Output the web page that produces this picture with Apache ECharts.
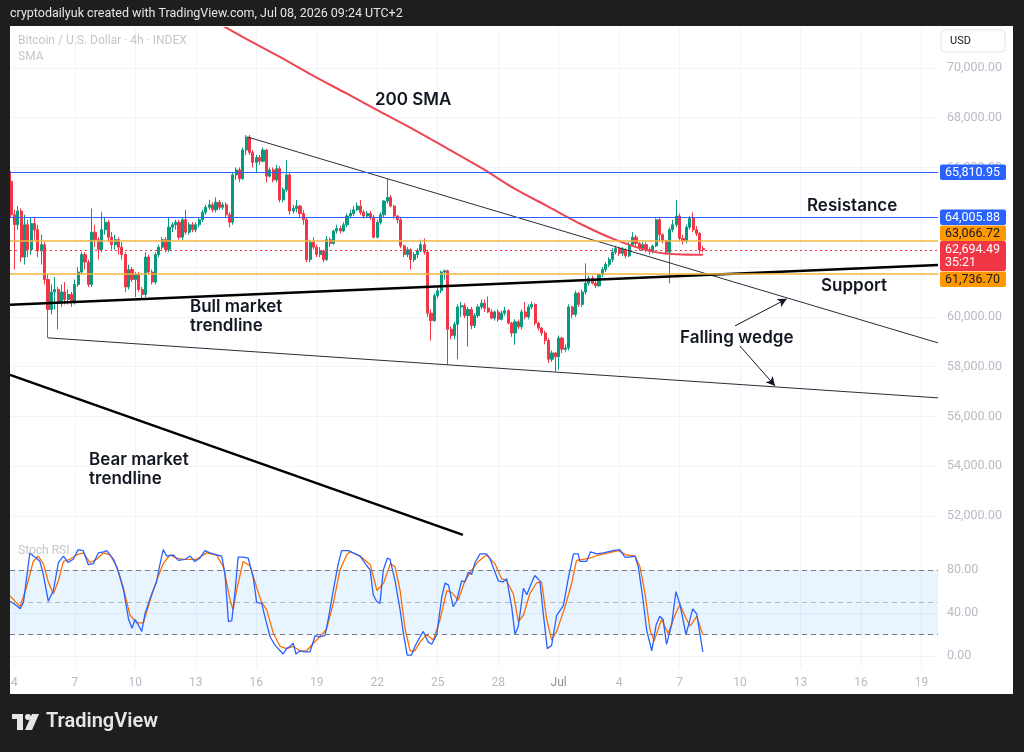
<!DOCTYPE html>
<html>
<head>
<meta charset="utf-8">
<script src="https://cdn.jsdelivr.net/npm/echarts@6/dist/echarts.min.js"></script>
<style>
  html, body { margin: 0; padding: 0; background: #1e1e1e; }
  #main { width: 1024px; height: 752px; }
</style>
</head>
<body>
<div id="main"></div>
<script>
// x unit = one 4h candle, 0 = Jun 4 00:00
var firstCandleX = -1;

// [open, close, low, high]
var candles = [
  [65450,64100,64000,65850],[64100,63700,61900,64300],[63700,64250,63500,64450],[64250,62400,62200,64350],
  [62400,63700,62100,64100],[63700,62700,62400,63900],[62700,63750,62500,64000],[63750,63500,63100,64000],
  [63500,62650,62400,63700],[62650,62900,62100,63300],[62900,61500,61300,63000],[61500,60300,59150,61700],
  [60300,61000,60100,61300],[61000,61100,60300,61600],[61100,60600,59500,61200],[60600,61000,60400,61300],
  [61000,60700,60500,61400],[60700,60900,60500,61100],[60900,60600,60400,61000],[60600,61300,60500,61500],
  [61300,61800,61200,62000],[61800,62500,61700,62600],[62500,62200,61900,62600],[62200,61300,61200,62300],
  [61300,63400,61200,64350],[63400,63100,62800,63700],[63100,62700,62300,63200],[62700,63500,62600,64200],
  [63500,63800,63300,64000],[63800,63200,63000,63900],[63200,62900,62700,63400],[62900,63100,62700,63300],
  [63100,62800,62500,63200],[62800,62500,62300,63000],[62500,61200,61000,62600],[61200,61900,61100,62100],
  [61900,61500,61400,62000],[61500,61700,60800,61800],[61700,61100,61000,61800],[61100,60900,60750,61200],
  [60900,62400,60800,62600],[62400,61800,61700,62500],[61800,61400,61300,61900],[61400,62500,61300,62600],
  [62500,62800,62400,62900],[62800,63100,62700,63200],[63100,62700,62600,63200],[62700,63600,62600,64000],
  [63600,63700,63400,63800],[63700,63800,63500,63900],[63800,63200,63100,63900],[63200,63900,63100,64000],
  [63900,63400,63300,64300],[63400,63700,63300,63800],[63700,63500,63400,63800],[63500,63700,63400,63800],
  [63700,63900,63600,64000],[63900,64200,63800,64300],[64200,64400,64100,64500],[64400,64500,64300,64700],
  [64500,64300,64200,64600],[64300,64600,64200,64800],[64600,64400,64300,64700],[64400,64500,64300,64600],
  [64500,64100,64000,64600],[64100,63800,63600,64200],[63800,65700,63700,65800],[65700,65900,65500,66000],
  [65900,65550,65400,66000],[65550,66700,65500,66800],[66700,67200,66500,67300],[67200,66600,66500,67300],
  [66600,66200,66000,66700],[66200,66400,65800,66500],[66400,66250,66100,66500],[66250,66700,66200,66800],
  [66700,65650,65400,66750],[65650,65900,65600,66000],[65900,65500,65400,66000],[65500,65950,65400,66100],
  [65950,64700,64600,66050],[64700,65100,64600,65200],[65100,65700,65000,66300],[65700,64250,64100,65800],
  [64250,64350,64150,64500],[64350,64450,64200,64700],[64450,64150,64000,64500],[64150,63900,63700,64300],
  [63900,62300,62200,64000],[62300,63000,62200,63100],[63000,62800,62700,63200],[62800,62500,62400,62900],
  [62500,62650,62400,62800],[62650,62300,62200,62700],[62300,63100,62250,63250],[63100,62950,62800,63200],
  [62950,63450,62900,63500],[63450,63550,63350,63700],[63550,63450,63350,63650],[63450,63700,63400,63800],
  [63700,64050,63600,64150],[64050,64150,63950,64300],[64150,64300,64050,64450],[64300,64450,64250,64600],
  [64450,64200,64100,64700],[64200,64050,63950,64300],[64050,64150,64000,64250],[64150,64000,63900,64250],
  [64000,63200,63150,64100],[63200,63800,63150,63900],[63800,64100,63700,64200],[64100,64650,64000,64700],
  [64650,64800,64550,65550],[64800,64450,64400,64900],[64450,64050,63950,64500],[64050,63900,63750,64100],
  [63900,62850,62750,64000],[62850,62500,62400,62900],[62500,62700,62400,62800],[62700,62300,61900,62750],
  [62300,62500,62200,62600],[62500,62650,62350,62750],[62650,62900,62600,63100],[62900,62600,62500,63150],
  [62600,60150,60000,62700],[60150,59850,59050,60300],[59850,60850,59800,60950],[60850,61050,60750,61200],
  [61050,61800,60950,61850],[61800,61850,61500,61900],[61850,59500,58070,61900],[59500,59250,59100,59600],
  [59250,59700,59100,59800],[59700,60400,58300,60500],[60400,60450,60000,60600],[60450,60050,59950,60550],
  [60050,60300,58800,60400],[60300,59650,59500,60400],[59650,60050,59550,60150],[60050,60400,59950,60500],
  [60400,60550,60300,60700],[60550,60350,60200,60700],[60350,60200,60150,60820],[60200,59950,59900,60300],
  [59950,60200,59850,60250],[60200,59900,59800,60300],[59900,60150,59850,60250],[60150,60250,60050,60400],
  [60250,59750,59700,60300],[59750,59350,59200,59800],[59350,59800,58880,59900],[59800,59600,59500,59900],
  [59600,60200,59500,60300],[60200,60000,59900,60600],[60000,60400,59900,60500],[60400,60500,60300,60620],
  [60500,59750,59650,60550],[59750,59550,59450,59800],[59550,59350,59250,59600],[59350,59050,58900,59450],
  [59050,58300,58150,59150],[58300,58550,58200,58650],[58550,58400,57800,58600],[58400,59150,57870,59250],
  [59150,58700,58550,59200],[58700,58750,58600,58900],[58750,60400,58650,60500],[60400,60100,59950,60450],
  [60100,60950,60000,61050],[60950,60500,60400,61000],[60500,61000,60400,61100],[61000,61350,60900,62150],
  [61350,61550,61250,61650],[61550,61350,61300,61650],[61350,61250,61150,61450],[61250,61700,61200,61750],
  [61700,61900,61600,62000],[61900,62100,61800,62200],[62100,62300,62000,62400],[62300,62600,62200,62750],
  [62600,62750,62500,62850],[62750,62550,62450,62800],[62550,62700,62450,62800],[62700,62450,62350,62750],
  [62450,62900,62400,63000],[62900,63200,62850,63400],[63200,62950,62850,63300],[62950,62750,62650,63000],
  [62750,62900,62650,63000],[62900,62700,62600,63000],[62700,62650,62500,62800],[62650,62850,62550,62900],
  [62850,63900,62800,63960],[63900,63300,63000,64000],[63300,63050,62950,63350],[63050,62600,62500,63100],
  [62600,63500,61350,63600],[63500,63700,63400,63900],[63700,64050,63600,64700],[64050,63150,63050,64150],
  [63150,63050,62900,63300],[63050,63600,62950,63700],[63600,63950,63500,64050],[63950,63500,63400,64200],
  [63500,63350,63250,63650],[63350,62700,62550,63400],[62750,62694.49,62600,62850]
];

// 200 SMA, [x, price]
var sma200 = [
  [61,71770],[69,71160],[79,70440],[89,69680],[99,68960],[109,68230],[119,67510],[129,66750],
  [139,65980],[149,65140],[159,64420],[169,63700],[179,63090],[189,62650],[197,62510],[205,62490]
];

// drawn lines, [x, price]
var upperWedge = [[69.2,67230],[274.9,58956]];
var lowerWedge = [[10.0,59157],[274.9,56747]];
var bullTrend  = [[-1.31,60482],[274.9,62088]];
var bearTrend  = [[-1.31,57671],[133.5,51245]];
var arrowUp    = [[214.5,59640],[229.9,60723]];
var arrowDown  = [[215.9,58836],[226.4,57229]];

// horizontal levels: resistance 1, resistance 2, orange zone top, last price, orange zone bottom
var levelValues = [65810.95, 64005.88, 63066.72, 62694.49, 61736.70];
var countdown = '35:21';

// Stoch RSI, [x, value]
var stochK = [
  [-1.3,51],[0.2,48],[1.7,44],[2.7,50],[4.6,96],[5.6,93],[6.6,91],[7.6,88],[8.6,76],[10.1,51],[11.6,61],
  [13.1,87],[14.6,93],[16.0,87],[17.5,90],[19.0,99],[20.5,98],[22.0,85],[23.5,86],[25.0,96],[26.5,97],
  [27.5,98],[29.5,90],[31.0,78],[32.5,61],[34.0,34],[35.0,26],[35.9,34],[36.9,29],[37.9,23],[38.9,40],
  [40.9,58],[42.3,69],[43.3,85],[44.3,99],[45.3,93],[47.3,94],[48.8,89],[50.8,90],[52.3,93],[53.7,88],
  [55.2,91],[56.7,98],[58.2,96],[60.2,94],[61.7,93],[62.7,76],[63.7,32],[64.7,33],[65.7,61],[66.6,92],
  [68.1,92],[69.6,91],[71.1,73],[72.1,50],[73.6,49],[74.6,36],[76.1,18],[77.6,10],[79.1,5],[80.0,2],
  [81.0,7],[82.0,9],[83.0,12],[83.8,2],[85.0,5],[86.5,4],[88.0,4],[89.5,19],[90.9,18],[92.4,19],
  [93.4,34],[94.9,61],[96.4,86],[97.4,98],[99.4,98],[102.9,93],[104.9,84],[105.9,80],[106.8,57],
  [107.8,51],[108.8,49],[109.8,80],[111.0,91],[111.8,90],[113.3,70],[114.8,43],[115.8,21],[116.9,1],
  [118.2,1],[119.2,9],[120.2,15],[121.7,23],[123.2,13],[124.2,11],[125.7,20],[127.2,55],[128.2,68],
  [129.2,66],[130.6,46],[131.6,51],[133.1,70],[134.1,69],[135.1,78],[136.1,76],[137.1,87],[138.6,95],
  [140.5,95],[141.5,91],[142.7,81],[144.0,70],[145.4,69],[146.5,72],[148.0,46],[149.0,20],[150.0,28],
  [151.5,63],[152.5,57],[153.9,68],[154.9,75],[156.4,70],[157.4,40],[158.6,7],[159.9,10],[161.4,38],
  [163.4,47],[164.9,73],[166.4,95],[167.8,95],[168.3,88],[170.3,88],[171.5,97],[173.3,95],[175.3,96],
  [178.2,98],[180.2,99],[181.7,92],[183.2,92],[184.7,93],[185.7,83],[187.0,55],[188.2,24],[189.7,5],
  [191.0,29],[192.1,37],[193.1,34],[194.1,11],[195.6,29],[196.9,60],[198.1,48],[199.9,20],[201.9,44],
  [203.1,39],[204.9,4]
];
var stochD = [
  [-1.3,56],[1.7,46],[3.6,64],[5.6,88],[7.1,93],[8.6,86],[10.1,69],[11.6,58],[13.1,70],[14.6,88],
  [16.5,90],[18.5,94],[20.5,96],[22.5,87],[24.5,90],[26.5,96],[28.5,94],[30.5,83],[32.4,64],[34.4,38],
  [36.4,31],[38.4,31],[40.4,52],[42.3,70],[44.3,86],[46.3,94],[48.3,91],[50.3,90],[52.2,90],[54.2,90],
  [57.2,96],[60.2,94],[62.2,83],[64.2,52],[65.1,43],[66.1,61],[68.1,88],[70.1,84],[72.1,64],[73.6,50],
  [75.1,43],[77.1,21],[79.1,9],[81.0,7],[83.0,9],[85.0,5],[87.0,5],[89.0,12],[90.9,18],[92.9,25],
  [94.9,49],[96.9,80],[98.9,94],[99.9,97],[102.9,93],[105.9,85],[107.9,61],[109.9,68],[111.9,86],
  [113.3,83],[114.8,61],[116.3,25],[117.8,5],[119.2,5],[120.7,13],[122.7,20],[124.7,15],[126.7,34],
  [128.7,61],[130.2,59],[132.1,52],[134.1,70],[136.1,80],[138.1,88],[140.5,94],[143.0,86],[145.0,72],
  [146.5,70],[148.5,58],[150.0,32],[151.5,38],[153.4,58],[155.4,68],[156.9,69],[158.4,35],[159.9,15],
  [161.4,23],[163.9,46],[165.9,68],[167.3,89],[169.3,90],[171.3,91],[173.8,94],[176.8,96],[179.7,98],
  [182.2,94],[184.7,93],[186.2,83],[187.7,58],[189.2,24],[190.4,14],[192.6,34],[194.6,21],[196.6,38],
  [198.1,48],[199.6,37],[201.1,28],[203.1,37],[204.9,20]
];

// axis ticks
var dayTicks  = [0, 18, 36, 54, 72, 90, 108, 126, 144, 162, 180, 198, 216, 234, 252, 270];
var dayLabels = ['4','7','10','13','16','19','22','25','28','Jul','4','7','10','13','16','19'];
var priceTicks = [52000, 54000, 56000, 58000, 60000, 62000, 64000, 66000, 68000, 70000];
var stochTicks = [0, 40, 80];

var X_MIN = -1.31, X_MAX = 274.9;
var GREEN = '#089981', RED = '#f23645', BLUE = '#2962ff', ORANGE = '#ff9800';

function fmtPrice(v) {
    return v.toLocaleString('en-US', { minimumFractionDigits: 2, maximumFractionDigits: 2 });
}

function txt(x, y, s, fill, font, extra) {
    var st = { text: s, fill: fill, font: font, align: 'left', textAlign: 'left',
               verticalAlign: 'middle', textVerticalAlign: 'middle' };
    if (extra) for (var k in extra) st[k] = extra[k];
    return { type: 'text', x: x, y: y, z: 110, style: st };
}

function box(x, y, w, h, fill) {
    return { type: 'rect', z: 105, shape: { x: x, y: y, width: w, height: h, r: 2 }, style: { fill: fill } };
}

window.onload = function () {
    var chart = echarts.init(document.getElementById('main'), null, { renderer: 'canvas' });

    var candleData = candles.map(function (c, i) {
        return [firstCandleX + i, c[0], c[1], c[2], c[3]];
    });

    var levelStyles = [
        { color: BLUE, width: 1, type: 'solid' },
        { color: BLUE, width: 1, type: 'solid' },
        { color: '#f5b342', width: 1.5, type: 'solid' },
        { color: RED, width: 1, type: [2, 3] },
        { color: '#f5b342', width: 1.5, type: 'solid' }
    ];

    var boldFont = '600 17px Inter';
    var graphics = [
        // dark frame
        { type: 'rect', z: 100, shape: { x: 0, y: 0, width: 1024, height: 26 }, style: { fill: '#1e1e1e' } },
        { type: 'rect', z: 100, shape: { x: 0, y: 0, width: 10, height: 752 }, style: { fill: '#1e1e1e' } },
        { type: 'rect', z: 100, shape: { x: 1013, y: 0, width: 11, height: 752 }, style: { fill: '#1e1e1e' } },
        { type: 'rect', z: 100, shape: { x: 0, y: 694, width: 1024, height: 58 }, style: { fill: '#1e1e1e' } },
        txt(10, 14, 'cryptodailyuk created with TradingView.com, Jul 08, 2026 09:24 UTC+2', '#e6e6e6', '12.5px Roboto'),
        txt(18, 41, 'Bitcoin / U.S. Dollar \u00b7 4h \u00b7 INDEX', '#c3c6cd', '12px Roboto'),
        txt(18, 57, 'SMA', '#c3c6cd', '12px Roboto'),
        txt(18, 551, 'Stoch RSI', '#c3c6cd', '12px Roboto'),
        // annotations
        txt(375, 100, '200 SMA', '#131722', boldFont),
        txt(807, 206, 'Resistance', '#131722', boldFont),
        txt(821, 286, 'Support', '#131722', boldFont),
        txt(190, 307, 'Bull market', '#131722', boldFont),
        txt(190, 326, 'trendline', '#131722', boldFont),
        txt(680, 338, 'Falling wedge', '#131722', boldFont),
        txt(89, 460, 'Bear market', '#131722', boldFont),
        txt(89, 479, 'trendline', '#131722', boldFont),
        // USD button
        { type: 'rect', z: 105, shape: { x: 941, y: 30, width: 64, height: 22, r: 4 },
          style: { fill: '#ffffff', stroke: '#e0e3eb', lineWidth: 1 } },
        txt(950, 41, 'USD', '#131722', '11px Roboto'),
        // price tags
        box(940, 164.5, 66, 15.5, BLUE), txt(945, 172.5, fmtPrice(levelValues[0]), '#ffffff', '12.5px Roboto'),
        box(940, 209.5, 66, 15.5, BLUE), txt(945, 217.5, fmtPrice(levelValues[1]), '#ffffff', '12.5px Roboto'),
        box(940, 225.5, 66, 15.5, ORANGE), txt(945, 233.5, fmtPrice(levelValues[2]), '#131722', '12.5px Roboto'),
        box(940, 241, 66, 30, RED), txt(945, 249.5, fmtPrice(levelValues[3]), '#ffffff', '12.5px Roboto'),
        txt(945, 263, countdown, '#ffffff', '12.5px Roboto'),
        box(940, 271.5, 66, 15.5, ORANGE), txt(945, 279.5, fmtPrice(levelValues[4]), '#131722', '12.5px Roboto'),
        // TradingView logo
        { type: 'rect', z: 110, shape: { x: 12, y: 714, width: 11, height: 5 }, style: { fill: '#e6e6e6' } },
        { type: 'rect', z: 110, shape: { x: 17, y: 714, width: 6, height: 16 }, style: { fill: '#e6e6e6' } },
        { type: 'circle', z: 110, shape: { cx: 28, cy: 717, r: 3 }, style: { fill: '#e6e6e6' } },
        { type: 'polygon', z: 110, shape: { points: [[32, 714], [39, 714], [32, 730], [25, 730]] }, style: { fill: '#e6e6e6' } },
        txt(46, 722, 'TradingView', '#e6e6e6', '600 20px Roboto', { letterSpacing: -0.5 })
    ];

    var option = {
        animation: false,
        backgroundColor: '#ffffff',
        textStyle: { fontFamily: 'Roboto' },
        grid: [
            { left: 10, top: 28, width: 928, height: 513 },
            { left: 10, top: 541, width: 928, height: 127 }
        ],
        xAxis: [
            {
                type: 'value', gridIndex: 0, min: X_MIN, max: X_MAX,
                axisLine: { show: false },
                axisTick: { show: false, customValues: dayTicks },
                axisLabel: { show: false },
                splitLine: { show: true, lineStyle: { color: '#f0f3fa', width: 1 } }
            },
            {
                type: 'value', gridIndex: 1, min: X_MIN, max: X_MAX,
                axisLine: { show: false },
                axisTick: { show: false, customValues: dayTicks },
                axisLabel: {
                    customValues: dayTicks, margin: 9, fontSize: 12,
                    formatter: function (v) {
                        var i = dayTicks.indexOf(v);
                        return i === 9 ? '{m|' + dayLabels[i] + '}' : dayLabels[i];
                    },
                    color: '#b8bbc4',
                    rich: { m: { color: '#8d9099', fontSize: 12 } }
                },
                splitLine: { show: true, lineStyle: { color: '#f0f3fa', width: 1 } }
            }
        ],
        yAxis: [
            {
                type: 'value', gridIndex: 0, position: 'right', min: 51000, max: 71600,
                axisLine: { show: false },
                axisTick: { show: false, customValues: priceTicks },
                axisLabel: { customValues: priceTicks, formatter: fmtPrice, color: '#b8bbc4',
                             fontSize: 12.5, margin: 9, align: 'left' },
                splitLine: { show: true, lineStyle: { color: '#f3f4f7', width: 1 } }
            },
            {
                type: 'value', gridIndex: 1, position: 'right', min: -11, max: 107,
                axisLine: { show: false },
                axisTick: { show: false, customValues: stochTicks },
                axisLabel: { customValues: stochTicks, formatter: function (v) { return v.toFixed(2); },
                             color: '#b8bbc4', fontSize: 12.5, margin: 9, align: 'left' },
                splitLine: { show: true, lineStyle: { color: '#f0f3fa', width: 1 } }
            }
        ],
        series: [
            {
                type: 'candlestick', xAxisIndex: 0, yAxisIndex: 0,
                data: candleData,
                encode: { x: 0, y: [1, 2, 3, 4] },
                barWidth: 2.6,
                itemStyle: { color: GREEN, color0: RED, borderColor: GREEN, borderColor0: RED, borderWidth: 1 },
                z: 3,
                markLine: {
                    silent: true, symbol: 'none', label: { show: false },
                    data: levelValues.map(function (v, i) { return { yAxis: v, lineStyle: levelStyles[i] }; })
                }
            },
            {
                type: 'line', xAxisIndex: 0, yAxisIndex: 0, data: sma200, smooth: 0.35,
                symbol: 'none', lineStyle: { color: '#ef4452', width: 2 }, z: 4
            },
            {
                type: 'line', xAxisIndex: 0, yAxisIndex: 0, data: upperWedge,
                symbol: 'none', lineStyle: { color: '#2a2e39', width: 1 }, z: 4,
                markLine: {
                    silent: true, symbol: ['none', 'arrow'], symbolSize: [7, 9],
                    label: { show: false },
                    lineStyle: { color: '#131722', width: 1, type: 'solid' },
                    data: [
                        [{ coord: arrowUp[0] }, { coord: arrowUp[1] }],
                        [{ coord: arrowDown[0] }, { coord: arrowDown[1] }]
                    ]
                }
            },
            {
                type: 'line', xAxisIndex: 0, yAxisIndex: 0, data: lowerWedge,
                symbol: 'none', lineStyle: { color: '#2a2e39', width: 1 }, z: 4
            },
            {
                type: 'line', xAxisIndex: 0, yAxisIndex: 0, data: bullTrend,
                symbol: 'none', lineStyle: { color: '#000000', width: 2.5 }, z: 4
            },
            {
                type: 'line', xAxisIndex: 0, yAxisIndex: 0, data: bearTrend,
                symbol: 'none', lineStyle: { color: '#000000', width: 2.5 }, z: 4
            },
            {
                type: 'line', xAxisIndex: 1, yAxisIndex: 1, data: stochK,
                symbol: 'none', lineStyle: { color: '#2962ff', width: 1.3 }, z: 4,
                markArea: {
                    silent: true, itemStyle: { color: 'rgba(33,150,243,0.1)' },
                    data: [[{ yAxis: 20 }, { yAxis: 80 }]]
                },
                markLine: {
                    silent: true, symbol: 'none', label: { show: false },
                    lineStyle: { color: '#787b86', type: [5, 4], width: 1 },
                    data: [
                        { yAxis: 80 },
                        { yAxis: 50, lineStyle: { color: 'rgba(120,123,134,0.5)' } },
                        { yAxis: 20 }
                    ]
                }
            },
            {
                type: 'line', xAxisIndex: 1, yAxisIndex: 1, data: stochD,
                symbol: 'none', lineStyle: { color: '#ff6d00', width: 1.3 }, z: 3
            }
        ],
        graphic: { elements: graphics }
    };

    chart.setOption(option);
};
</script>
</body>
</html>
